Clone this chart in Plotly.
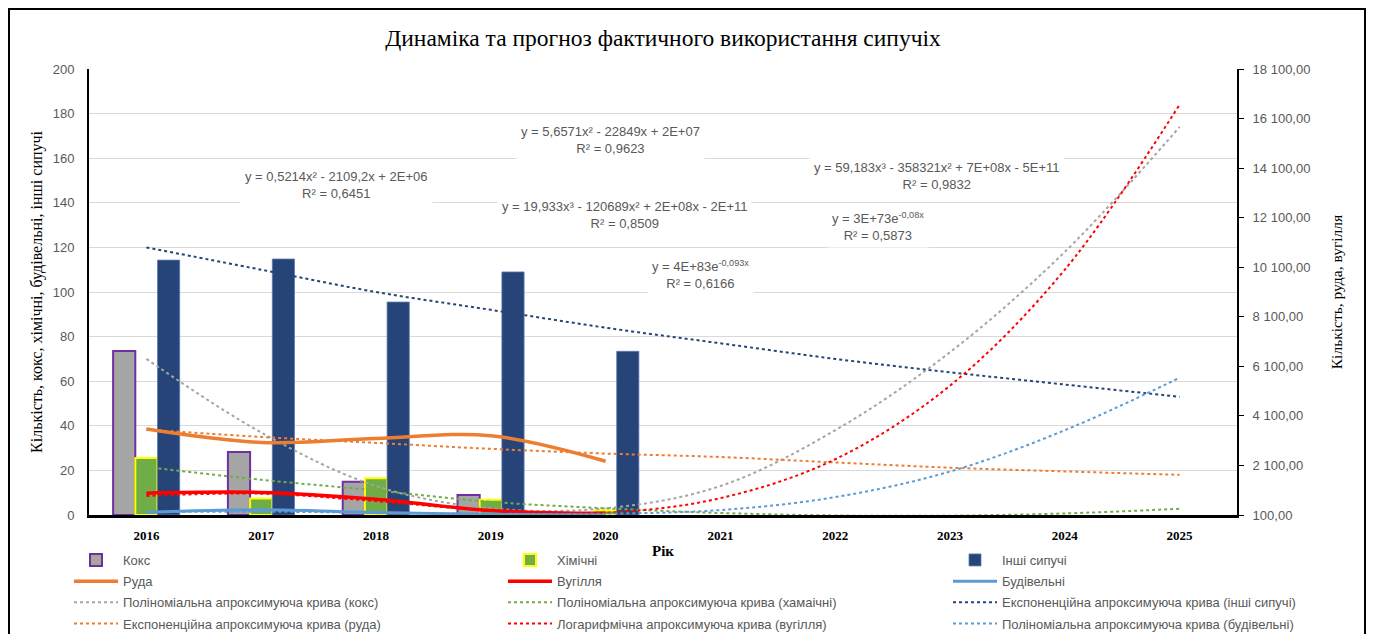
import plotly.graph_objects as go

# categories
years = ["2016", "2017", "2018", "2019", "2020", "2021", "2022", "2023", "2024", "2025"]
hist_years = years[:5]

# bars, left axis
koks = [73.5, 28.3, 14.9, 9.0, 0.0]
khimichni = [25.6, 7.4, 16.5, 6.8, 2.0]
inshi = [114.3, 114.8, 95.5, 109.0, 73.4]

# lines, right axis
ruda = [3570, 3030, 3190, 3300, 2270]
vuhillia = [980, 1010, 740, 280, 170]
budivelni = [210, 310, 200, 130, 100]

# trend curves
koks_trend = [70, 37, 13, 3, 3, 13, 38, 73, 118, 174]
khim_trend = [21.5, 15.8, 11.0, 5.9, 3.0, 0.9, -0.2, -0.3, 0.7, 2.8]
inshi_trend = [120, 110, 100, 92, 84, 77, 70, 64, 58.5, 53]
ruda_trend = [3550, 3250, 3010, 2770, 2580, 2440, 2220, 2010, 1860, 1720]
vuh_trend = [870, 960, 660, 280, 190, 780, 2350, 5320, 10000, 16660]
bud_trend = [217, 235, 190, 145, 154, 298, 820, 1855, 3520, 5640]

equations = [
    "y = 0,5214x² - 2109,2x + 2E+06<br>R² = 0,6451",
    "y = 5,6571x² - 22849x + 2E+07<br>R² = 0,9623",
    "y = 19,933x³ - 120689x² + 2E+08x - 2E+11<br>R² = 0,8509",
    "y = 4E+83e<sup>-0,093x</sup><br>R² = 0,6166",
    "y = 59,183x³ - 358321x² + 7E+08x - 5E+11<br>R² = 0,9832",
    "y = 3E+73e<sup>-0,08x</sup><br>R² = 0,5873",
]
eq_pos = [(336, 185), (610, 140), (624, 215), (701, 274), (936, 176), (878, 226)]

SANS = "Liberation Sans"
SERIF = "Liberation Serif"
GREY = "#595959"

# page is offset by the 8px body margin
W, H = 1358, 626
L, T = 81, 61
PW, PH = 1148, 446
R = W - L - PW
B = H - T - PH


def px(x):
    return (x - 8 - L) / PW


def py(y):
    return (T + PH - (y - 8)) / PH


fig = go.Figure()

fig.add_trace(go.Bar(x=hist_years, y=koks, name="Кокс", legend="legend", legendgroup="a",
                     marker=dict(color="#A5A5A5", line=dict(color="#7030A0", width=2))))
fig.add_trace(go.Bar(x=hist_years, y=khimichni, name="Хімічні", legend="legend2", legendgroup="b",
                     marker=dict(color="#70AD47", line=dict(color="#FFFF00", width=2))))
fig.add_trace(go.Bar(x=hist_years, y=inshi, name="Інші сипучі", legend="legend3", legendgroup="c",
                     marker=dict(color="#264478", line=dict(color="#5B7BB5", width=0.8))))

fig.add_trace(go.Scatter(x=hist_years, y=ruda, name="Руда", yaxis="y2", legend="legend", legendgroup="d",
                         mode="lines", line=dict(color="#ED7D31", width=3.5, shape="spline")))
fig.add_trace(go.Scatter(x=hist_years, y=vuhillia, name="Вугілля", yaxis="y2", legend="legend2", legendgroup="e",
                         mode="lines", line=dict(color="#FF0000", width=3.5, shape="spline")))
fig.add_trace(go.Scatter(x=hist_years, y=budivelni, name="Будівельні", yaxis="y2", legend="legend3", legendgroup="f",
                         mode="lines", line=dict(color="#5B9BD5", width=3, shape="spline")))

trends = [
    (koks_trend, "y", "#A5A5A5", "Поліноміальна апроксимуюча крива (кокс)", "legend"),
    (khim_trend, "y", "#70AD47", "Поліноміальна апроксимуюча крива (хамаічні)", "legend2"),
    (inshi_trend, "y", "#264478", "Експоненційна апроксимуюча крива (інші сипучі)", "legend3"),
    (ruda_trend, "y2", "#ED7D31", "Експоненційна апроксимуюча крива (руда)", "legend"),
    (vuh_trend, "y2", "#FF0000", "Логарифмічна апроксимуюча крива (вугілля)", "legend2"),
    (bud_trend, "y2", "#5B9BD5", "Поліноміальна апроксимуюча крива (будівельні)", "legend3"),
]
for i, (vals, ax, col, name, leg) in enumerate(trends):
    fig.add_trace(go.Scatter(x=years, y=vals, name=name, yaxis=ax, legend=leg, legendgroup="t%d" % i,
                             mode="lines", line=dict(color=col, width=2, dash="dot", shape="spline")))

for txt, (ex, ey) in zip(equations, eq_pos):
    fig.add_annotation(x=px(ex), y=py(ey), xref="paper", yref="paper", text=txt,
                       xanchor="center", yanchor="middle",
                       showarrow=False, align="center", bgcolor="white", borderpad=4,
                       font=dict(family=SANS, size=13, color=GREY))

leg_common = dict(orientation="v", yanchor="top", xanchor="left", itemwidth=44,
                  tracegroupgap=1.3, bgcolor="rgba(0,0,0,0)",
                  font=dict(family=SANS, size=13, color=GREY))
fig.update_layout(
    legend=dict(x=px(69), y=py(545), **leg_common),
    legend2=dict(x=px(503), y=py(545), **leg_common),
    legend3=dict(x=px(948), y=py(545), **leg_common),
)

fig.add_shape(type="rect", xref="paper", yref="paper",
              x0=(1 - L) / PW, x1=(W - 1 - L) / PW, y0=-0.5, y1=(T + PH - 1) / PH,
              line=dict(color="black", width=2), fillcolor="rgba(0,0,0,0)", layer="below")

fig.update_layout(
    width=W, height=H,
    margin=dict(l=L, r=R, t=T, b=B, autoexpand=False),
    paper_bgcolor="white", plot_bgcolor="white",
    separators=", ",
    barmode="group", bargap=0.42, bargroupgap=0,
    title=dict(text="Динаміка та прогноз фактичного використання сипучіх",
               x=0.5, xref="paper", xanchor="center", y=1 - 30 / H, yanchor="middle",
               font=dict(family=SERIF, size=23.5, color="black")),
    xaxis=dict(type="category", range=[-0.5, 9.5], showline=True, linecolor="black", linewidth=2.5,
               ticks="", showgrid=False, ticklabelstandoff=7,
               tickfont=dict(family=SERIF, size=13, color="black", weight="bold"),
               title=dict(text="Рік", standoff=4, font=dict(family=SERIF, size=15, color="black", weight="bold"))),
    yaxis=dict(range=[0, 200], dtick=20, showline=True, linecolor="black", linewidth=2,
               ticks="", showgrid=True, gridcolor="#D9D9D9", gridwidth=1, zeroline=False,
               ticklabelstandoff=10, tickfont=dict(family=SANS, size=13, color=GREY),
               title=dict(text="Кількість, кокс, хімічні, будівельні, інші сипучі", standoff=6,
                          font=dict(family=SERIF, size=16, color="black"))),
    yaxis2=dict(range=[100, 18100], tick0=100, dtick=2000, tickformat=",.2f", overlaying="y",
                side="right", showline=True, linecolor="black", linewidth=2, ticks="outside",
                ticklen=5, tickcolor="black", showgrid=False, zeroline=False, ticklabelstandoff=6,
                tickfont=dict(family=SANS, size=13, color=GREY),
                title=dict(text="Кількість, руда, вугілля", standoff=22,
                           font=dict(family=SERIF, size=15.5, color="black"))),
)

fig.write_html("out.html")
